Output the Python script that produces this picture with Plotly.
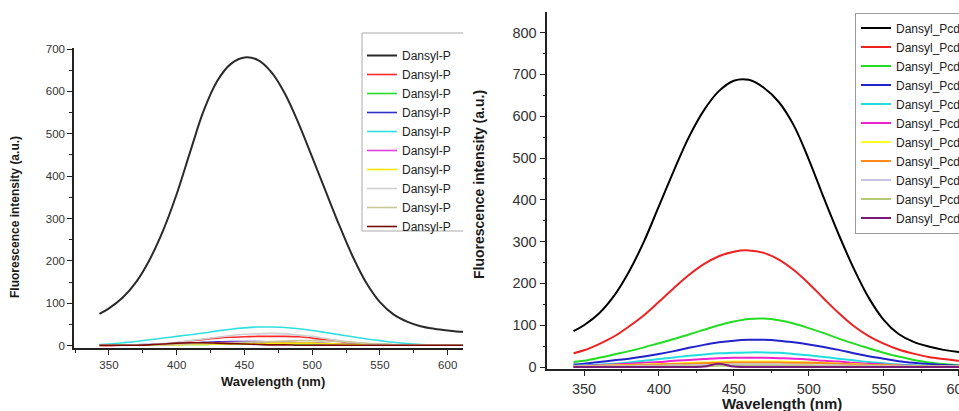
import plotly.graph_objects as go

# ---------------- data ----------------
wl_left = [343, 350, 360, 370, 380, 390, 400, 410, 420, 430, 440, 450, 460, 470,
           480, 490, 500, 510, 520, 530, 540, 550, 560, 570, 580, 590, 600, 610, 612]
names_left = ["Dansyl-P"] * 10
colors_left = ["#2a2a2a", "#ff2a2a", "#22dd22", "#3030c8", "#30e0e0",
               "#e040e0", "#f2e600", "#cfcfcf", "#c9c79a", "#7a0a0a"]
black_L = [75, 88, 113, 150, 203, 272, 358, 458, 555, 625, 665, 680, 674, 645,
           594, 524, 445, 364, 284, 210, 148, 103, 74, 57, 46, 40, 36, 33, 33]
red_L = [0, 0, 1, 1, 2, 4, 7, 11, 15, 18, 20, 21, 22, 22,
         22, 21, 18, 14, 10, 7, 4, 3, 2, 1, 1, 1, 1, 1, 1]
green_L = [2, 2, 2, 2, 2, 3, 3, 3, 3, 4, 4, 4, 4, 4,
           4, 4, 4, 4, 3, 3, 3, 3, 2, 2, 2, 2, 2, 2, 2]
blue_L = [1, 1, 1, 2, 3, 4, 5, 6, 8, 9, 10, 10, 10, 9,
          8, 7, 6, 5, 4, 3, 2, 2, 1, 1, 1, 1, 1, 1, 1]
cyan_L = [3, 4, 7, 10, 14, 18, 22, 26, 30, 35, 39, 42, 44, 44,
          43, 40, 36, 31, 26, 21, 16, 12, 8, 5, 3, 2, 2, 2, 2]
magenta_L = [1, 1, 1, 2, 2, 3, 4, 5, 6, 7, 8, 8, 8, 8,
             8, 7, 6, 5, 4, 3, 2, 2, 1, 1, 1, 1, 1, 1, 1]
yellow_L = [1, 1, 1, 1, 1, 2, 2, 3, 3, 4, 4, 5, 5, 6,
            6, 6, 6, 5, 4, 3, 3, 2, 2, 1, 1, 1, 1, 1, 1]
gray_L = [1, 1, 1, 2, 3, 5, 8, 12, 16, 20, 24, 27, 28, 29,
          28, 25, 22, 17, 12, 8, 5, 3, 2, 1, 1, 1, 1, 1, 1]
khaki_L = [1, 1, 1, 1, 2, 2, 3, 4, 5, 6, 7, 8, 9, 10,
           11, 12, 12, 11, 10, 8, 6, 4, 3, 2, 2, 1, 1, 1, 1]
maroon_L = [1, 1, 1, 1, 2, 4, 6, 7, 7, 6, 5, 4, 3, 2,
            2, 1, 1, 1, 1, 1, 1, 1, 1, 1, 1, 1, 1, 1, 1]
series_left = [black_L, red_L, green_L, blue_L, cyan_L, magenta_L,
               yellow_L, gray_L, khaki_L, maroon_L]

wl_right = [343, 350, 360, 370, 380, 390, 400, 410, 420, 430, 440, 450, 460, 470,
            480, 490, 500, 510, 520, 530, 540, 550, 560, 570, 580, 590, 600, 610]
names_right = ["Dansyl_Pcd"] * 11
colors_right = ["#000000", "#ee2222", "#22dd22", "#2222cc", "#22dddd", "#ee22cc",
                "#ffff22", "#ff8a1a", "#c4c4e4", "#b4c878", "#7a1a7a"]
black_R = [86, 100, 128, 170, 228, 300, 385, 470, 550, 614, 660, 685, 687, 668,
           634, 578, 497, 405, 317, 236, 166, 113, 79, 60, 49, 41, 36, 33]
red_R = [33, 40, 55, 73, 97, 124, 156, 189, 220, 246, 265, 276, 279, 273,
         257, 232, 200, 164, 129, 98, 74, 56, 42, 32, 24, 19, 15, 13]
green_R = [12, 15, 22, 30, 38, 47, 57, 67, 78, 89, 100, 109, 115, 116,
           112, 104, 93, 81, 68, 56, 45, 34, 25, 17, 11, 7, 4, 3]
blue_R = [6, 8, 12, 16, 20, 25, 31, 38, 46, 53, 59, 63, 65, 65,
          63, 59, 54, 48, 41, 33, 26, 20, 14, 10, 7, 5, 3, 2]
cyan_R = [3, 4, 6, 8, 11, 15, 19, 23, 27, 30, 33, 34, 35, 35,
          34, 31, 28, 24, 20, 16, 12, 9, 6, 4, 3, 2, 2, 2]
magenta_R = [2, 3, 4, 6, 8, 10, 12, 15, 17, 19, 21, 22, 22, 22,
             21, 20, 18, 15, 13, 10, 8, 6, 4, 3, 2, 2, 1, 1]
yellow_R = [1, 2, 3, 4, 5, 6, 7, 8, 10, 11, 12, 13, 13, 13,
            13, 12, 11, 10, 8, 7, 5, 4, 3, 2, 2, 1, 1, 1]
orange_R = [1, 1, 2, 3, 4, 5, 6, 7, 8, 9, 10, 11, 11, 11,
            11, 10, 10, 9, 8, 6, 5, 4, 3, 2, 2, 1, 1, 1]
lavender_R = [1, 1, 1, 2, 2, 3, 3, 4, 4, 5, 5, 6, 6, 6,
              6, 5, 5, 4, 4, 3, 3, 2, 2, 1, 1, 1, 1, 1]
olive_R = [0, 0, 1, 1, 1, 1, 2, 2, 2, 2, 3, 3, 3, 3,
           3, 3, 3, 2, 2, 2, 2, 1, 1, 1, 1, 0, 0, 0]
purple_R = [0, 0, 0, 0, 0, 0, 0, 0, 0, 1, 8, 1, 0, 0,
            0, 0, 0, 0, 0, 0, 0, 0, 0, 0, 0, 0, 0, 0]
series_right = [black_R, red_R, green_R, blue_R, cyan_R, magenta_R,
                yellow_R, orange_R, lavender_R, olive_R, purple_R]

x_ticks_left = [350, 400, 450, 500, 550, 600]
x_minor_left = [325, 375, 425, 475, 525, 575]
y_ticks_left = [0, 100, 200, 300, 400, 500, 600, 700]
y_minor_left = [50, 150, 250, 350, 450, 550, 650]
x_ticks_right = [350, 400, 450, 500, 550, 600]
x_minor_right = [375, 425, 475, 525, 575]
y_ticks_right = [0, 100, 200, 300, 400, 500, 600, 700, 800]
y_minor_right = [50, 150, 250, 350, 450, 550, 650, 750]

# ---------------- figure ----------------
W, H = 959, 411
FONT = "Liberation Sans, Arial, sans-serif"
fig = go.Figure()

for i, (ys, nm, col) in enumerate(zip(series_left, names_left, colors_left)):
    fig.add_trace(go.Scatter(
        x=wl_left, y=ys, name=nm, mode="lines",
        line=dict(color=col, width=2 if i == 0 else 1.6, shape="spline", smoothing=1),
        xaxis="x", yaxis="y", legend="legend"))

for i, (ys, nm, col) in enumerate(zip(series_right, names_right, colors_right)):
    fig.add_trace(go.Scatter(
        x=wl_right, y=ys, name=nm, mode="lines",
        line=dict(color=col, width=2, shape="spline", smoothing=1),
        xaxis="x2", yaxis="y2", legend="legend2"))


def px_x(p):
    return p / W


def px_y(p):
    return 1 - p / H


axis_common = dict(showgrid=False, zeroline=False, showline=True, linecolor="#222",
                   linewidth=1.5, ticks="outside", tickcolor="#222", tickwidth=1.2,
                   ticklabeloverflow="allow")


def minor(vals):
    return dict(tickmode="array", tickvals=vals, ticklen=3, ticks="outside",
                tickcolor="#222", tickwidth=1.2, showgrid=False)


fig.update_layout(
    width=W, height=H,
    margin=dict(l=0, r=0, t=0, b=0, autoexpand=False),
    paper_bgcolor="white", plot_bgcolor="white",
    font=dict(family=FONT, color="#333"),
    showlegend=True,
    xaxis=dict(domain=[px_x(74), px_x(463)], range=[324.2, 611.3],
               tickmode="array", tickvals=x_ticks_left, ticklen=5, minor=minor(x_minor_left),
               tickfont=dict(size=11.5, color="#333"), anchor="y", **axis_common),
    yaxis=dict(domain=[px_y(348), px_y(48)], range=[-5.4, 702.4],
               tickmode="array", tickvals=y_ticks_left, ticklen=5, minor=minor(y_minor_left),
               tickfont=dict(size=11.5, color="#333"), anchor="x", **axis_common),
    xaxis2=dict(domain=[px_x(547.3), 1.0], range=[325.5, 600.3],
                tickmode="array", tickvals=x_ticks_right, ticklen=6, minor=minor(x_minor_right),
                tickfont=dict(size=14.5, color="#333"), anchor="y2", **axis_common),
    yaxis2=dict(domain=[px_y(368.7), px_y(11.7)], range=[-4, 850],
                tickmode="array", tickvals=y_ticks_right, ticklen=6, minor=minor(y_minor_right),
                tickfont=dict(size=14.5, color="#333"), anchor="x2", **axis_common),
    legend=dict(x=px_x(362), y=px_y(41), xanchor="left", yanchor="top",
                bgcolor="rgba(255,255,255,0)", borderwidth=0,
                font=dict(size=12, color="#222", family=FONT),
                tracegroupgap=0, itemwidth=30),
    legend2=dict(x=px_x(855), y=px_y(12.5), xanchor="left", yanchor="top",
                 bgcolor="white", bordercolor="#999", borderwidth=1,
                 font=dict(size=12, color="#222", family=FONT),
                 tracegroupgap=0, itemwidth=30),
)

# left legend frame (clipped at panel edge on the right)
frame = dict(type="line", xref="paper", yref="paper", line=dict(color="#aaa", width=1))
fig.add_shape(x0=px_x(362), x1=px_x(362), y0=px_y(33), y1=px_y(231), **frame)
fig.add_shape(x0=px_x(362), x1=px_x(463), y0=px_y(33), y1=px_y(33), **frame)
fig.add_shape(x0=px_x(362), x1=px_x(463), y0=px_y(231), y1=px_y(231), **frame)

title_font = dict(family=FONT, color="#1a1a1a")
fig.add_annotation(text="<b>Wavelength (nm)</b>", xref="paper", yref="paper",
                   x=px_x(273), y=px_y(381.7), showarrow=False,
                   font=dict(size=13, **title_font), xanchor="center", yanchor="middle")
fig.add_annotation(text="<b>Fluorescence intensity (a.u.)</b>", xref="paper", yref="paper",
                   x=px_x(15), y=px_y(217), showarrow=False, textangle=-90,
                   font=dict(size=12, **title_font), xanchor="center", yanchor="middle")
fig.add_annotation(text="<b>Wavelength (nm)</b>", xref="paper", yref="paper",
                   x=px_x(781.7), y=px_y(403), showarrow=False,
                   font=dict(size=15, **title_font), xanchor="center", yanchor="middle")
fig.add_annotation(text="<b>Fluorescence intensity (a.u.)</b>", xref="paper", yref="paper",
                   x=px_x(479), y=px_y(185), showarrow=False, textangle=-90,
                   font=dict(size=14, **title_font), xanchor="center", yanchor="middle")

fig.write_html("out.html")
